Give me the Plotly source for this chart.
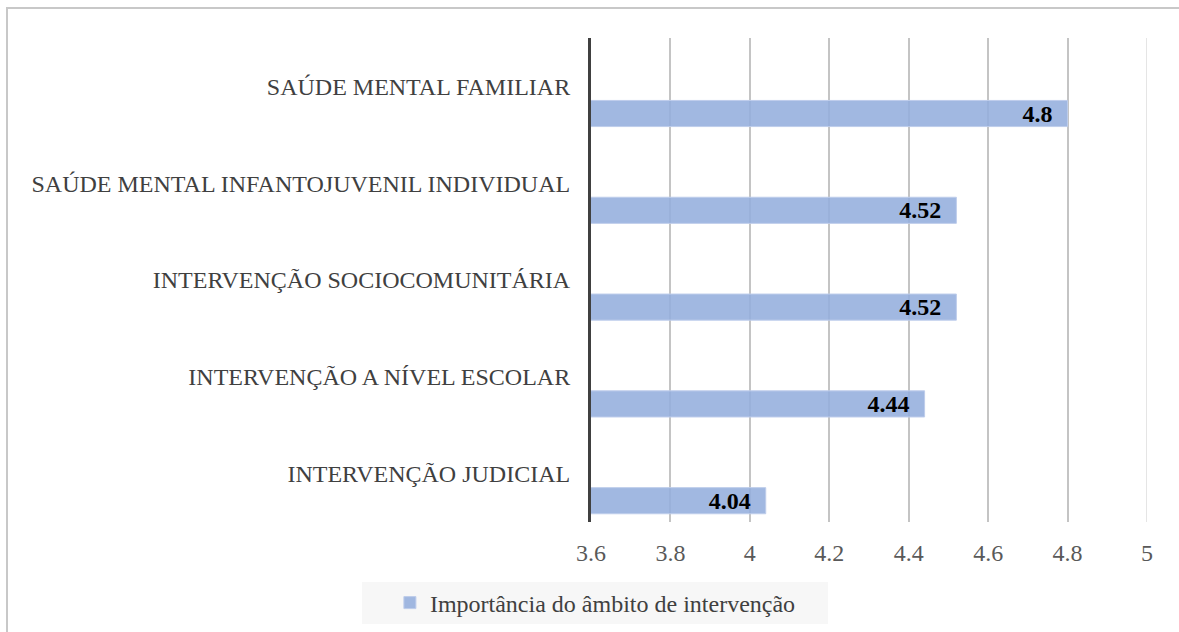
import plotly.graph_objects as go

# data
categories = [
    "SAÚDE MENTAL FAMILIAR",
    "SAÚDE MENTAL INFANTOJUVENIL INDIVIDUAL",
    "INTERVENÇÃO SOCIOCOMUNITÁRIA",
    "INTERVENÇÃO A NÍVEL ESCOLAR",
    "INTERVENÇÃO JUDICIAL",
]
values = [4.8, 4.52, 4.52, 4.44, 4.04]
series_name = "Importância do âmbito de intervenção"
x_ticks = [3.6, 3.8, 4.0, 4.2, 4.4, 4.6, 4.8, 5.0]
x_ticktext = ["3.6", "3.8", "4", "4.2", "4.4", "4.6", "4.8", "5"]

FONT = "Liberation Serif"
BAR_COLOR = "rgba(148, 174, 221, 0.88)"

fig = go.Figure()
fig.add_trace(
    go.Bar(
        y=categories,
        x=values,
        orientation="h",
        name=series_name,
        offset=0.145,
        width=0.27,
        marker=dict(color=BAR_COLOR, line=dict(color="rgba(190, 205, 235, 1)", width=1)),
        text=[f"{v:g}\u00a0\u00a0" for v in values],
        textposition="inside",
        insidetextanchor="end",
        constraintext="none",
        textangle=0,
        textfont=dict(family=FONT, size=24, color="black", weight="bold"),
        hoverinfo="skip",
    )
)

fig.update_layout(
    width=1179,
    height=632,
    margin=dict(l=591, r=32, t=38, b=110),
    paper_bgcolor="white",
    plot_bgcolor="white",
    font=dict(family=FONT, size=24, color="#404040"),
    showlegend=True,
    legend=dict(
        orientation="h",
        xref="container",
        yref="container",
        x=0.505,
        xanchor="center",
        y=(632 - 603) / 632,
        yanchor="middle",
        bgcolor="rgba(0,0,0,0)",
        font=dict(family=FONT, size=24, color="#404040"),
        itemwidth=30,
    ),
    shapes=[
        # legend background
        dict(type="rect", xref="paper", yref="paper",
             x0=(362 - 591) / 556, x1=(828 - 591) / 556,
             y0=(522 - 624) / 484, y1=(522 - 582) / 484,
             fillcolor="#f7f7f7", line=dict(width=0), layer="below"),
        # outer chart border
        dict(type="rect", xref="paper", yref="paper",
             x0=(7 - 591) / 556, x1=(1190 - 591) / 556,
             y0=(522 - 650) / 484, y1=(522 - 8) / 484,
             fillcolor="rgba(0,0,0,0)", line=dict(color="#c8c8c8", width=2)),
        # lighter last gridline at 5
        dict(type="line", xref="x", yref="paper", x0=5, x1=5, y0=0, y1=1,
             line=dict(color="#dcdcdc", width=1.5), layer="below"),
    ],
)

fig.update_xaxes(
    range=[3.6, 5.0],
    tickvals=x_ticks,
    ticktext=x_ticktext,
    showgrid=True,
    gridcolor="#c4c4c4",
    gridwidth=1.5,
    zeroline=False,
    showline=False,
    ticks="",
    ticklabelstandoff=14,
    tickfont=dict(family=FONT, size=24, color="#595959"),
)
fig.update_yaxes(
    type="category",
    categoryorder="array",
    categoryarray=categories,
    autorange="reversed",
    showgrid=False,
    showline=True,
    linecolor="#404040",
    linewidth=3,
    ticks="",
    ticklabelstandoff=13,
    tickfont=dict(family=FONT, size=24, color="#404040"),
)

fig.write_html(
    "out.html",
    config={"displayModeBar": False},
    post_script="document.body.style.margin = '0';",
)
